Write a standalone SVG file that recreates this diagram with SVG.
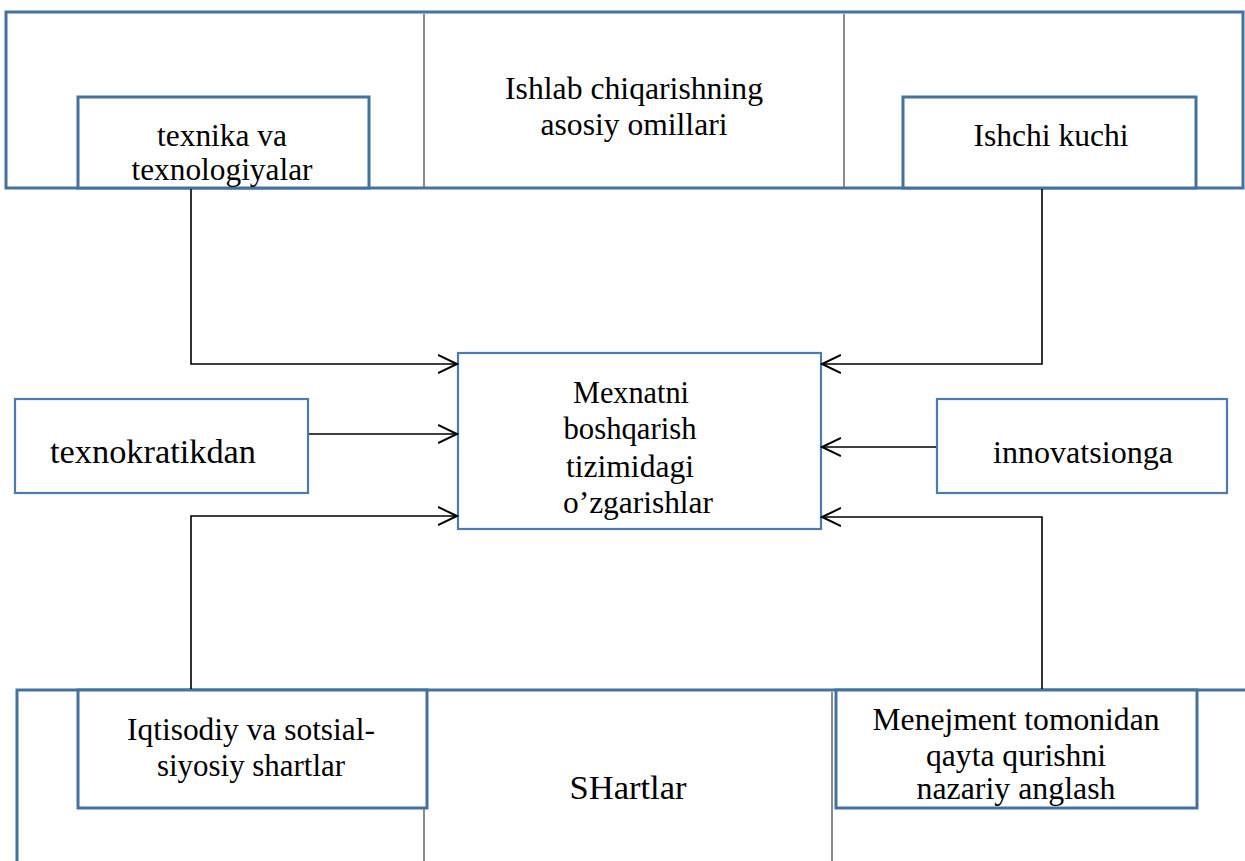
<svg xmlns="http://www.w3.org/2000/svg" width="1245" height="861" viewBox="0 0 1245 861">
<style>
.frame{fill:none;stroke:#44729F;stroke-width:3}
.box{fill:#fff;stroke:#44729F;stroke-width:3}
.box2{fill:#fff;stroke:#4C7CAE;stroke-width:2.2}
.sep{stroke:#6e6e6e;stroke-width:1.6;fill:none}
.con{fill:none;stroke:#000;stroke-width:1.6}
.t{font-family:Liberation Serif,DejaVu Serif,Times New Roman,serif;font-size:31px;fill:#000;text-anchor:middle}
.big{font-size:34px}
</style>
<defs>
<marker id="arr" markerUnits="userSpaceOnUse" markerWidth="22" markerHeight="22" refX="19" refY="10" orient="auto">
<path d="M0,1 L19,10 L0,19" fill="none" stroke="#000" stroke-width="2"/>
</marker>
</defs>
<rect width="1245" height="861" fill="#fff"/>
<g id="top-frame">
<rect class="frame" x="6" y="12" width="1237" height="176"/>
<line class="sep" x1="424" y1="14" x2="424" y2="188"/>
<line class="sep" x1="844" y1="14" x2="844" y2="188"/>
</g>
<g id="node-osnovnye" class="t">
<text x="634" y="99" textLength="258" lengthAdjust="spacingAndGlyphs">Ishlab chiqarishning</text>
<text x="634" y="135" textLength="187" lengthAdjust="spacingAndGlyphs">asosiy omillari</text>
</g>
<g id="node-texnika" class="t">
<rect class="box" x="78" y="97" width="291" height="91"/>
<text x="222" y="146" textLength="130" lengthAdjust="spacingAndGlyphs">texnika va</text>
<text x="222" y="180" textLength="181" lengthAdjust="spacingAndGlyphs">texnologiyalar</text>
</g>
<g id="node-ishchi" class="t">
<rect class="box" x="903" y="97" width="293" height="91"/>
<text x="1051" y="146" textLength="155" lengthAdjust="spacingAndGlyphs">Ishchi kuchi</text>
</g>
<g id="node-center" class="t">
<rect class="box2" x="458" y="353" width="363" height="176"/>
<text x="631" y="403" textLength="116" lengthAdjust="spacingAndGlyphs">Mexnatni</text>
<text x="630" y="439" textLength="133" lengthAdjust="spacingAndGlyphs">boshqarish</text>
<text x="630" y="477" textLength="128" lengthAdjust="spacingAndGlyphs">tizimidagi</text>
<text x="638" y="513" textLength="150" lengthAdjust="spacingAndGlyphs">o’zgarishlar</text>
</g>
<g id="node-texnokratikdan" class="t">
<rect class="box2" x="15" y="399" width="293" height="94"/>
<text class="big" x="153" y="463" textLength="206" lengthAdjust="spacingAndGlyphs">texnokratikdan</text>
</g>
<g id="node-innovatsionga" class="t">
<rect class="box2" x="937" y="399" width="290" height="94"/>
<text x="1083" y="463" textLength="180" lengthAdjust="spacingAndGlyphs">innovatsionga</text>
</g>
<g id="bottom-frame">
<path class="frame" d="M17,870 V690 H1250"/>
<line class="sep" x1="424" y1="692" x2="424" y2="861"/>
<line class="sep" x1="832" y1="692" x2="832" y2="861"/>
</g>
<g id="node-shartlar" class="t">
<text class="big" x="628" y="799" textLength="117" lengthAdjust="spacingAndGlyphs">SHartlar</text>
</g>
<g id="node-iqtisodiy" class="t">
<rect class="box" x="78" y="690" width="349" height="118"/>
<text x="251" y="740" textLength="248" lengthAdjust="spacingAndGlyphs">Iqtisodiy va sotsial-</text>
<text x="251" y="776" textLength="188" lengthAdjust="spacingAndGlyphs">siyosiy shartlar</text>
</g>
<g id="node-menejment" class="t">
<rect class="box" x="836" y="690" width="361" height="118"/>
<text x="1016" y="730" textLength="287" lengthAdjust="spacingAndGlyphs">Menejment tomonidan</text>
<text x="1016" y="766" textLength="180" lengthAdjust="spacingAndGlyphs">qayta qurishni</text>
<text x="1016" y="799" textLength="199" lengthAdjust="spacingAndGlyphs">nazariy anglash</text>
</g>
<g id="connectors">
<path class="con" d="M191,189 V364 H457" marker-end="url(#arr)"/>
<path class="con" d="M309,434 H457" marker-end="url(#arr)"/>
<path class="con" d="M191,689 V516 H457" marker-end="url(#arr)"/>
<path class="con" d="M1042,189 V364 H822" marker-end="url(#arr)"/>
<path class="con" d="M936,447 H822" marker-end="url(#arr)"/>
<path class="con" d="M1042,689 V517 H822" marker-end="url(#arr)"/>
</g>
</svg>
